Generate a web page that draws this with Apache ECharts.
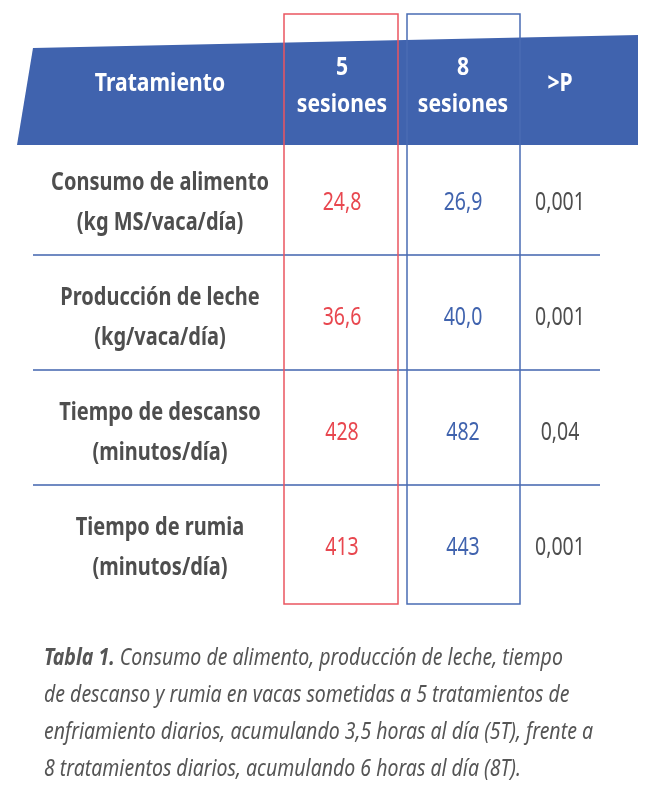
<!DOCTYPE html>
<html>
<head>
<meta charset="utf-8">
<script src="https://cdn.jsdelivr.net/npm/echarts@6/dist/echarts.min.js"></script>
<style>
  html, body { margin: 0; padding: 0; background: #fff; }
  #main { width: 656px; height: 800px; }
</style>
</head>
<body>
<div id="main"></div>
<script>
// datos de la tabla
var headers = ['Tratamiento', '5\nsesiones', '8\nsesiones', '>P'];
var rowLabels = [
    'Consumo de alimento\n(kg MS/vaca/día)',
    'Producción de leche\n(kg/vaca/día)',
    'Tiempo de descanso\n(minutos/día)',
    'Tiempo de rumia\n(minutos/día)'
];
var sesiones5 = [24.8, 36.6, 428, 413];
var sesiones8 = [26.9, 40.0, 482, 443];
var pValues = [0.001, 0.001, 0.04, 0.001];
var decimals = [1, 1, 0, 0];
var captionTitle = 'Tabla 1.';
var captionLines = [
    ' Consumo de alimento, producción de leche, tiempo',
    'de descanso y rumia en vacas sometidas a 5 tratamientos de',
    'enfriamiento diarios, acumulando 3,5 horas al día (5T), frente a',
    '8 tratamientos diarios, acumulando 6 horas al día (8T).'
];

// layout
var FONT = '"Noto Sans", sans-serif';
var BLUE = '#4063ae';
var RED = '#e8474f';
var GRAY = '#4e4e4e';
var colX = [160, 342, 463, 560];
var lineX = [33, 600];
var lineShift = -5;

function fmt(v, d) {
    return v.toFixed(d).replace('.', ',');
}

function cellText(x, y, text, color, weight, scaleX) {
    return {
        type: 'text',
        x: x,
        y: y,
        scaleX: scaleX,
        style: {
            text: text,
            fill: color,
            fontFamily: FONT,
            fontSize: 25,
            fontWeight: weight,
            lineHeight: 40,
            align: 'center',
            verticalAlign: 'middle'
        }
    };
}

function renderRow(params, api) {
    var i = params.dataIndex;
    var band = api.size([0, 1])[1];
    var y = api.coord([0, api.value(0)])[1];
    var children = [
        cellText(colX[0], y, rowLabels[i], GRAY, 'bold', 0.8),
        cellText(colX[1], y, fmt(sesiones5[i], decimals[i]), RED, 'normal', 0.78),
        cellText(colX[2], y, fmt(sesiones8[i], decimals[i]), BLUE, 'normal', 0.78),
        cellText(colX[3], y, String(pValues[i]).replace('.', ','), GRAY, 'normal', 0.78)
    ];
    if (i < rowLabels.length - 1) {
        var ly = y + band / 2 + lineShift;
        children.push({
            type: 'line',
            shape: {
                x1: api.coord([lineX[0], 0])[0], y1: ly,
                x2: api.coord([lineX[1], 0])[0], y2: ly
            },
            style: { stroke: BLUE, lineWidth: 1.5 }
        });
    }
    return { type: 'group', children: children };
}

function headerText(i, y) {
    return {
        type: 'text', z: 2, x: colX[i], y: y, scaleX: 0.845,
        style: {
            text: headers[i], fill: '#fff', fontFamily: FONT, fontSize: 25,
            fontWeight: 'bold', lineHeight: 37, align: 'center', verticalAlign: 'middle'
        }
    };
}

var myChart = echarts.init(document.getElementById('main'));

var captionText = '{b|' + captionTitle + '}{i|' + captionLines[0] + '}\n' +
    captionLines.slice(1).map(function (l) { return '{i|' + l + '}'; }).join('\n');

var option = {
    animation: false,
    grid: { left: 0, right: 0, top: 145, height: 460 },
    xAxis: { type: 'value', min: 0, max: 656, show: false },
    yAxis: { type: 'category', inverse: true, data: rowLabels, show: false },
    series: [{
        type: 'custom',
        clip: false,
        renderItem: renderRow,
        encode: { y: 0 },
        data: rowLabels.map(function (l, i) {
            return [l, sesiones5[i], sesiones8[i], pValues[i]];
        })
    }],
    graphic: [
        {
            type: 'polygon',
            z: 1,
            shape: { points: [[17, 145], [33, 48], [638, 35], [638, 145]] },
            style: { fill: BLUE }
        },
        headerText(0, 84),
        headerText(1, 86),
        headerText(2, 86),
        headerText(3, 84),
        {
            type: 'rect', z: 3,
            shape: { x: 284, y: 14, width: 114, height: 590 },
            style: { fill: 'none', stroke: '#ea5560', lineWidth: 1.5 }
        },
        {
            type: 'rect', z: 3,
            shape: { x: 407, y: 14, width: 113, height: 590 },
            style: { fill: 'none', stroke: '#4a6cb4', lineWidth: 1.5 }
        },
        {
            type: 'text', z: 2, x: 44, y: 640, scaleX: 0.848,
            style: {
                text: captionText,
                fill: '#555',
                fontFamily: FONT,
                fontSize: 23,
                rich: {
                    b: { fontFamily: FONT, fontSize: 23, fontWeight: 'bold', fontStyle: 'italic', fill: '#555', lineHeight: 37 },
                    i: { fontFamily: FONT, fontSize: 23, fontStyle: 'italic', fill: '#555', lineHeight: 37 }
                }
            }
        }
    ]
};

myChart.setOption(option, true);
</script>
</body>
</html>
